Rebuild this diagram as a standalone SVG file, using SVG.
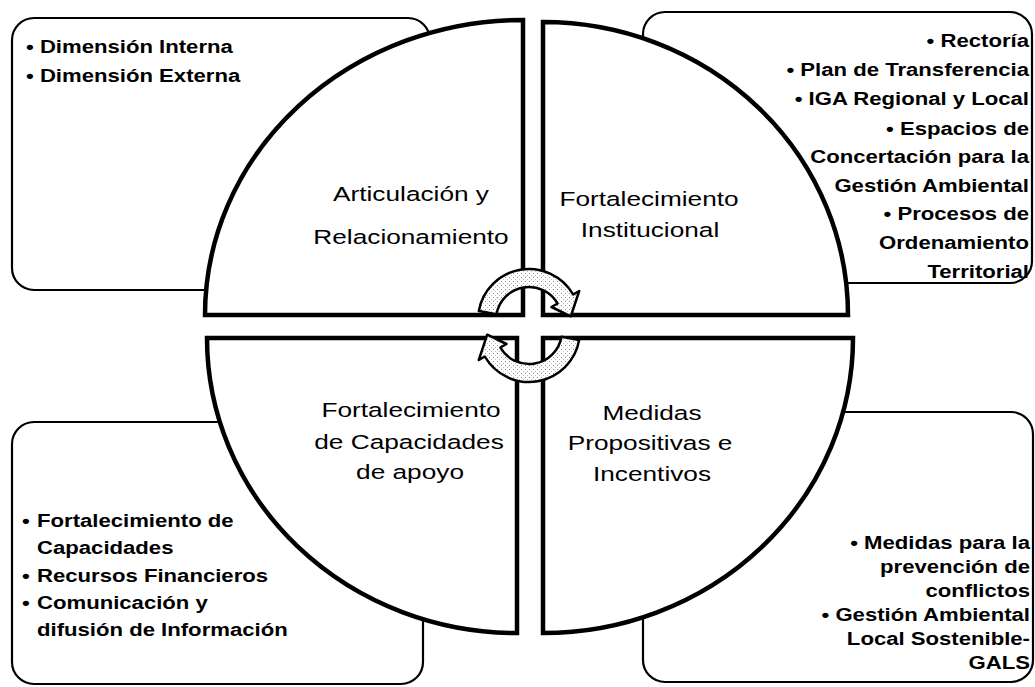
<svg xmlns="http://www.w3.org/2000/svg" width="1035" height="687" viewBox="0 0 1035 687">
<style>
.box{fill:#fff;stroke:#000;stroke-width:2.2}
.quad{fill:#fff;stroke:#000;stroke-width:4.5;stroke-linejoin:miter}
.arr{fill:url(#sp);stroke:#000;stroke-width:2.5;stroke-linejoin:round}
.q{font-family:"Liberation Sans",Arial,sans-serif;font-size:20.5px;fill:#000;text-anchor:middle}
.b{font-family:"Liberation Sans",Arial,sans-serif;font-size:18px;font-weight:bold;fill:#000}
.e{text-anchor:end}
</style>
<defs>
<pattern id="sp" width="4" height="4" patternUnits="userSpaceOnUse">
<rect width="4" height="4" fill="#fff"/>
<rect x="1" y="1" width="1" height="1" fill="#8a8a8a"/>
<rect x="3" y="3" width="1" height="1" fill="#c0c0c0"/>
</pattern>
</defs>
<rect width="1035" height="687" fill="#fff"/>

<g id="box-tl">
<rect class="box" x="12" y="18" width="418" height="272" rx="22"/>
<text class="b" transform="translate(26,53) scale(1.23,1)">• Dimensión Interna</text>
<text class="b" transform="translate(26,82) scale(1.23,1)">• Dimensión Externa</text>
</g>
<g id="box-tr">
<rect class="box" x="643" y="12" width="389" height="271" rx="22"/>
<text class="b e" transform="translate(1029,47) scale(1.23,1)">• Rectoría</text>
<text class="b e" transform="translate(1029,76) scale(1.23,1)">• Plan de Transferencia</text>
<text class="b e" transform="translate(1029,105) scale(1.23,1)">• IGA Regional y Local</text>
<text class="b e" transform="translate(1029,135) scale(1.23,1)">• Espacios de</text>
<text class="b e" transform="translate(1029,163) scale(1.23,1)">Concertación para la</text>
<text class="b e" transform="translate(1029,192) scale(1.23,1)">Gestión Ambiental</text>
<text class="b e" transform="translate(1029,220) scale(1.23,1)">• Procesos de</text>
<text class="b e" transform="translate(1029,249) scale(1.23,1)">Ordenamiento</text>
<text class="b e" transform="translate(1029,278) scale(1.23,1)">Territorial</text>
</g>
<g id="box-bl">
<rect class="box" x="12" y="422" width="411" height="262" rx="22"/>
<text class="b" transform="translate(22,527) scale(1.23,1)">•</text>
<text class="b" transform="translate(37,527) scale(1.23,1)">Fortalecimiento de</text>
<text class="b" transform="translate(37,554) scale(1.23,1)">Capacidades</text>
<text class="b" transform="translate(22,582) scale(1.23,1)">•</text>
<text class="b" transform="translate(37,582) scale(1.23,1)">Recursos Financieros</text>
<text class="b" transform="translate(22,609) scale(1.23,1)">•</text>
<text class="b" transform="translate(37,609) scale(1.23,1)">Comunicación y</text>
<text class="b" transform="translate(37,636) scale(1.23,1)">difusión de Información</text>
</g>
<g id="box-br">
<rect class="box" x="643" y="412" width="390" height="270" rx="22"/>
<text class="b e" transform="translate(1030,549) scale(1.23,1)">• Medidas para la</text>
<text class="b e" transform="translate(1030,573) scale(1.23,1)">prevención de</text>
<text class="b e" transform="translate(1030,597) scale(1.23,1)">conflictos</text>
<text class="b e" transform="translate(1030,621) scale(1.23,1)">• Gestión Ambiental</text>
<text class="b e" transform="translate(1030,645) scale(1.23,1)">Local Sostenible-</text>
<text class="b e" transform="translate(1030,669) scale(1.23,1)">GALS</text>
</g>

<g id="quad-tl">
<path class="quad" d="M523 315 L205 315 A318 295 0 0 1 523 20 Z"/>
<text class="q" transform="translate(411,201) scale(1.28,1)">Articulación y</text>
<text class="q" transform="translate(411,244) scale(1.28,1)">Relacionamiento</text>
</g>
<g id="quad-tr">
<path class="quad" d="M543 315 L543 22 A305 293 0 0 1 848 315 Z"/>
<text class="q" transform="translate(649,206) scale(1.28,1)">Fortalecimiento</text>
<text class="q" transform="translate(650,237) scale(1.28,1)">Institucional</text>
</g>
<g id="quad-bl">
<path class="quad" d="M517 338 L517 633 A310 295 0 0 1 207 338 Z"/>
<text class="q" transform="translate(411,417) scale(1.28,1)">Fortalecimiento</text>
<text class="q" transform="translate(409,449) scale(1.28,1)">de Capacidades</text>
<text class="q" transform="translate(410,479) scale(1.28,1)">de apoyo</text>
</g>
<g id="quad-br">
<path class="quad" d="M543 338 L853 338 A310 295 0 0 1 543 633 Z"/>
<text class="q" transform="translate(652,420) scale(1.28,1)">Medidas</text>
<text class="q" transform="translate(650,450) scale(1.28,1)">Propositivas e</text>
<text class="q" transform="translate(652,481) scale(1.28,1)">Incentivos</text>
</g>

<g id="connectors">
<path class="arr" d="M478.8 311.1 A51 51 0 0 1 573.2 294.5 L579.2 291 L570.8 316.3 L551.5 307 L557.6 303.5 A33 33 0 0 0 496.5 314.3 Z"/>
<path class="arr" d="M579.2 339.9 A51 51 0 0 1 484.8 356.5 L478.8 360 L487.2 334.7 L506.5 344 L500.4 347.5 A33 33 0 0 0 561.5 336.7 Z"/>
</g>
</svg>
